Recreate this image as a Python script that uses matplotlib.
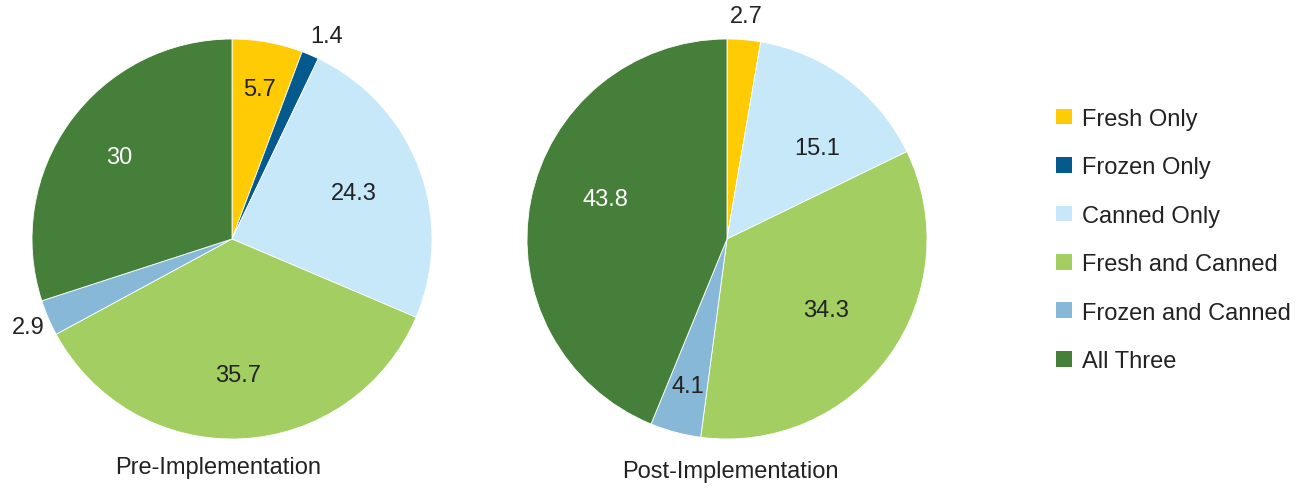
import numpy as np
import matplotlib
matplotlib.use('Agg')
import matplotlib.pyplot as plt
from matplotlib.patches import Patch

plt.rcParams['font.family'] = ['Liberation Sans', 'DejaVu Sans']

# ============================================================================
# Data
# ============================================================================
categories = ['Fresh Only', 'Frozen Only', 'Canned Only',
              'Fresh and Canned', 'Frozen and Canned', 'All Three']
pre_values = [5.7, 1.4, 24.3, 35.7, 2.9, 30]
post_values = [2.7, 0, 15.1, 34.3, 4.1, 43.8]
pre_labels = ['5.7', '1.4', '24.3', '35.7', '2.9', '30']
post_labels = ['2.7', '', '15.1', '34.3', '4.1', '43.8']
titles = ['Pre-Implementation', 'Post-Implementation']

colors = ['#FFCB05', '#045A8D', '#C6E8F8', '#A3CE62', '#88B8D8', '#467F3A']
text_colors = ['#222222', '#222222', '#222222', '#222222', '#222222', 'white']

# label radial distances (fraction of radius)
pre_dist = [0.76, 1.12, 0.65, 0.68, 1.11, 0.70]
post_dist = [1.12, 0.0, 0.64, 0.61, 0.76, 0.64]
post_shift = [0, 0, -8, 0, 0, -7]   # small angle tweaks (deg)
pre_shift = [0, -2, 0, 0, 0, 0]

FS = 17
W, H = 1308, 489
fig = plt.figure(figsize=(W / 100, H / 100), dpi=100)


def draw_pie(left_px, values, labels, dists, shifts, title, title_x, title_y):
    ax = fig.add_axes([left_px / W, (H - 440) / H, 400 / W, 400 / H])
    ax.pie(values, colors=colors, startangle=90, counterclock=False,
           radius=1.0, wedgeprops=dict(edgecolor='white', linewidth=0.6))
    total = float(sum(values))
    cum = 0.0
    for v, lab, d, s, tc in zip(values, labels, dists, shifts, text_colors):
        mid = 90 - (cum + v / 2) / total * 360 + s
        cum += v
        if not lab:
            continue
        th = np.deg2rad(mid)
        col = tc if d < 1 else '#222222'
        ax.text(d * np.cos(th), d * np.sin(th), lab, ha='center', va='center',
                fontsize=FS, color=col)
    ax.text(title_x, title_y, title, ha='center', va='center', fontsize=FS,
            color='#222222', clip_on=False)
    ax.set_xlim(-1, 1)
    ax.set_ylim(-1, 1)
    ax.set_aspect('equal')
    ax.axis('off')


draw_pie(32, pre_values, pre_labels, pre_dist, pre_shift, titles[0], -0.07, -1.14)
draw_pie(527, post_values, post_labels, post_dist, post_shift, titles[1], 0.015, -1.16)

handles = [Patch(facecolor=c, edgecolor='none') for c in colors]
fig.legend(handles, categories, loc='center left',
           bbox_to_anchor=(1035 / W, 1 - 241 / H), frameon=False,
           fontsize=FS, handlelength=0.65, handleheight=0.65,
           handletextpad=0.45, labelspacing=1.12, labelcolor='#222222')

plt.savefig('out.png', dpi=100)
